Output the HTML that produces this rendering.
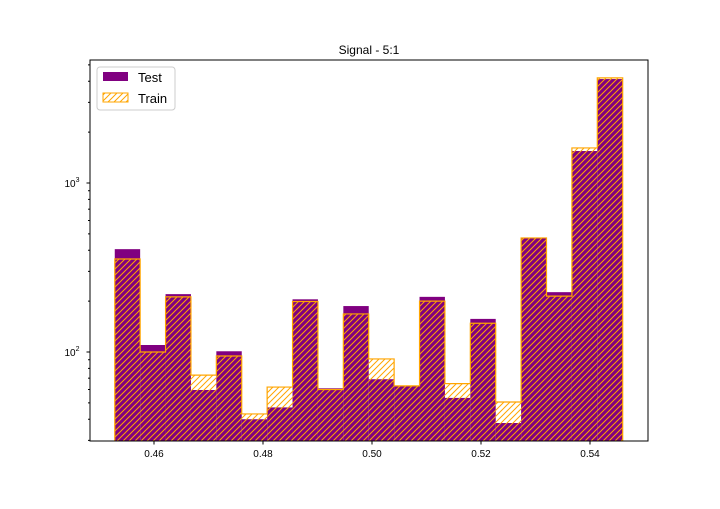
<!DOCTYPE html>
<html><head><meta charset="utf-8"><style>
body{margin:0;background:#fff;font-family:"Liberation Sans",sans-serif}
</style></head><body>
<svg id="chart" width="720" height="504" xmlns="http://www.w3.org/2000/svg">
<defs>
<pattern id="hatch" patternUnits="userSpaceOnUse" width="6" height="6">
<path d="M-1,1 l2,-2 M0,6 l6,-6 M5,7 l2,-2" stroke="orange" stroke-width="1"/>
</pattern>
</defs>
<rect x="0" y="0" width="720" height="504" fill="#fff"/>
<g id="marks"></g>
<g id="axes"></g>
</svg>
<script>
const testValues=[406,110,220,59.6,101,40,47,205,61,187,69,63,212,53.5,157,38,473,226,1546,4121];
const trainValues=[355,100,212,73,94.7,43,62,199,60,168,91,63,200,65,148,50.6,473,214,1612,4190];
const binStart=0.4528, binEnd=0.546;
const xTicks=[0.46,0.48,0.50,0.52,0.54];
const xTickLabels=["0.46","0.48","0.50","0.52","0.54"];
const yMajor=[100,1000];
const yMajorLabels=["10","10"];
const yMajorExp=["2","3"];

const L=90,R=648,T=60,B=441;
const xs=v=>154+(v-0.46)*5450;
const ys=v=>352-(Math.log10(v)-2)*169;
const NS="http://www.w3.org/2000/svg";
function mk(tag,attrs,parent){const e=document.createElementNS(NS,tag);for(const k in attrs)e.setAttribute(k,attrs[k]);parent.appendChild(e);return e;}
const marks=document.getElementById('marks'), axes=document.getElementById('axes');
const n=testValues.length, w=(binEnd-binStart)/n;
for(let i=0;i<n;i++){
  const x0=xs(binStart+i*w), x1=xs(binStart+(i+1)*w), y=ys(testValues[i]);
  const r=mk('rect',{x:x0,y:y,width:x1-x0,height:B-y,fill:'purple'},marks);
  
  
}
let d='';
for(let i=0;i<n;i++){
  const x0=xs(binStart+i*w), x1=xs(binStart+(i+1)*w), y=ys(trainValues[i]);
  const r=mk('rect',{x:x0,y:y,width:x1-x0,height:B-y,fill:'url(#hatch)'},marks);
  
  
  d+=(i===0?'M'+x0+','+B+' L'+x0+','+y:' L'+x0+','+y)+' L'+x1+','+y;
  if(i===n-1)d+=' L'+x1+','+B;
}
const st=mk('path',{d:d,fill:'none',stroke:'orange','stroke-width':1.2},marks);



const fr=mk('rect',{x:L,y:T,width:R-L,height:B-T,fill:'none',stroke:'#000','stroke-width':1},axes);


xTicks.forEach((t,i)=>{
  const x=xs(t);
  const l=mk('line',{x1:x,x2:x,y1:B,y2:B+3.5,stroke:'#000'},axes);
  
  
  const tx=mk('text',{x:x,y:B+16,'font-size':10,'text-anchor':'middle'},axes);
  tx.textContent=xTickLabels[i];
  
  
});
for(let dec=10;dec<=1000;dec*=10){
  for(let m=1;m<10;m++){
    const v=dec*m, y=ys(v);
    if(y<T||y>B)continue;
    const major=(m===1);
    const l=mk('line',{x1:L,x2:L-(major?3.5:2),y1:y,y2:y,stroke:'#000'},axes);
    
    
  }
}
yMajor.forEach((v,i)=>{
  const y=ys(v);
  const tx=mk('text',{x:L-18,y:y+4,'font-size':10,'text-anchor':'middle'},axes);
  tx.textContent=yMajorLabels[i];
  const sp=mk('tspan',{'font-size':7,dy:-5},tx);
  sp.textContent=yMajorExp[i];
  
  
});
const title=mk('text',{x:(L+R)/2,y:T-6,'font-size':12,'text-anchor':'middle'},axes);
title.textContent='Signal - 5:1';


const lg=mk('g',{},axes);


mk('rect',{x:97,y:67,width:78,height:43,rx:3,fill:'#fff',stroke:'#ccc'},lg);
const e1=mk('rect',{x:103,y:72,width:25,height:9,fill:'purple'},lg);


const t1=mk('text',{x:138,y:82,'font-size':13},lg);t1.textContent='Test';


const e2=mk('rect',{x:103,y:93,width:25,height:9,fill:'url(#hatch)',stroke:'orange'},lg);


const t2=mk('text',{x:138,y:103,'font-size':13},lg);t2.textContent='Train';


</script>
</body></html>
